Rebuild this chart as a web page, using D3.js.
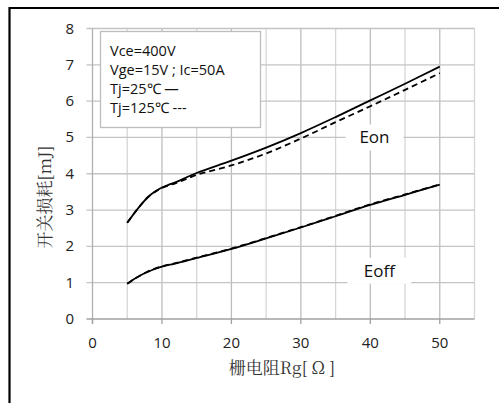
<!DOCTYPE html>
<html><head><meta charset="utf-8">
<script src="https://cdn.jsdelivr.net/npm/d3@7"></script>
<style>body{margin:0;background:#fff}svg{display:block}</style>
</head><body>
<script>
const rg = [5, 6, 7, 8, 9, 10, 11, 12, 15, 20, 25, 30, 35, 40, 45, 50];
const eon25 = [2.65, 2.91, 3.15, 3.36, 3.51, 3.62, 3.70, 3.77, 4.02, 4.36, 4.72, 5.12, 5.56, 6.02, 6.48, 6.95];
const eon125 = [2.65, 2.91, 3.15, 3.36, 3.50, 3.61, 3.68, 3.74, 3.97, 4.23, 4.56, 4.97, 5.42, 5.86, 6.31, 6.77];
const eoff25 = [0.97, 1.10, 1.21, 1.30, 1.38, 1.44, 1.49, 1.53, 1.68, 1.93, 2.22, 2.52, 2.83, 3.14, 3.42, 3.70];
const eoff125 = [0.97, 1.10, 1.21, 1.31, 1.39, 1.45, 1.50, 1.54, 1.69, 1.94, 2.23, 2.53, 2.84, 3.16, 3.43, 3.71];
const xTicks = [0, 10, 20, 30, 40, 50];
const yTicks = [0, 1, 2, 3, 4, 5, 6, 7, 8];
const legendLines = ["Vce=400V", "Vge=15V ; Ic=50A", "Tj=25\u2103 \u2014", "Tj=125\u2103 ---"];
const curveLabels = [{text: "Eon", x: 40.6, y: 5}, {text: "Eoff", x: 41.3, y: 1.33}];

const W = 499, H = 403;
const svg = d3.select("body").append("svg").attr("width", W).attr("height", H);
svg.append("rect").attr("width", W).attr("height", H).attr("fill", "#fff");

const x = d3.scaleLinear().domain([0, 55]).range([92.5, 474.5]);
const y = d3.scaleLinear().domain([0, 8]).range([319, 28.5]);
const font = "'Open Sans', sans-serif";
const cjk = "'Noto Serif CJK SC','Noto Sans CJK SC',serif";

// outer frame
svg.append("path").attr("d", `M9.5,${H+2}V8H${W+2}`).attr("fill", "none").attr("stroke", "#000").attr("stroke-width", 2.2);

// vertical gridlines every 5
const g = svg.append("g");
d3.range(5, 56, 5).forEach(v => {
  g.append("line").attr("x1", x(v)).attr("x2", x(v)).attr("y1", y(0)).attr("y2", y(8))
    .attr("stroke", v % 10 === 0 ? "#bdbdbd" : "#d6d6d6").attr("stroke-width", 1.3);
});
// horizontal gridlines
yTicks.filter(v => v > 0).forEach(v => {
  g.append("line").attr("x1", x(0) - 6).attr("x2", x(55)).attr("y1", y(v)).attr("y2", y(v))
    .attr("stroke", "#c4c4c4").attr("stroke-width", 1.3);
});
// axes lines
g.append("line").attr("x1", x(0)).attr("x2", x(0)).attr("y1", y(0) + 5).attr("y2", y(8)).attr("stroke", "#b0b0b0").attr("stroke-width", 1.3);
g.append("line").attr("x1", x(0) - 6).attr("x2", x(55)).attr("y1", y(0)).attr("y2", y(0)).attr("stroke", "#a0a0a0").attr("stroke-width", 1.3);
xTicks.forEach(v => {
  g.append("line").attr("x1", x(v)).attr("x2", x(v)).attr("y1", y(0)).attr("y2", y(0) + 5).attr("stroke", "#a0a0a0").attr("stroke-width", 1.3);
});

// tick labels
svg.append("g").selectAll("text").data(xTicks).join("text")
  .attr("x", d => x(d)).attr("y", 348).attr("text-anchor", "middle")
  .attr("font-family", font).attr("font-size", 15).attr("fill", "#222").text(d => d);
svg.append("g").selectAll("text").data(yTicks).join("text")
  .attr("x", 74).attr("y", d => y(d) + 5).attr("text-anchor", "end")
  .attr("font-family", font).attr("font-size", 15).attr("fill", "#222").text(d => d);

// axis titles
svg.append("text").attr("x", 282).attr("y", 374).attr("text-anchor", "middle")
  .attr("font-family", cjk).attr("font-size", 17).attr("fill", "#333")
  .text("栅电阻Rg[ Ω ]");
svg.append("text").attr("transform", "translate(51,197) rotate(-90)").attr("text-anchor", "middle")
  .attr("font-family", cjk).attr("font-size", 17).attr("fill", "#333")
  .text("开关损耗[mJ]");

// legend box
svg.append("rect").attr("x", 100.5).attr("y", 31.5).attr("width", 160).attr("height", 96)
  .attr("fill", "#fff").attr("stroke", "#bdbdbd").attr("stroke-width", 1.3);
svg.append("g").selectAll("text").data(legendLines).join("text")
  .attr("x", 110).attr("y", (d, i) => 55.5 + i * 19)
  .attr("font-family", font).attr("font-size", 14.5).attr("fill", "#111").text(d => d);

// curves
const line = d3.line().x((d, i) => x(rg[i])).y(d => y(d)).curve(d3.curveCatmullRom.alpha(0.5));
const curves = [
  {v: eon25, dash: null}, {v: eon125, dash: "6,4"},
  {v: eoff25, dash: null}, {v: eoff125, dash: "6,4"}
];
svg.append("g").selectAll("path").data(curves).join("path")
  .attr("d", d => line(d.v)).attr("fill", "none").attr("stroke", "#000")
  .attr("stroke-width", 1.8).attr("stroke-dasharray", d => d.dash);

// curve labels with white background
curveLabels.forEach(l => {
  const cx = x(l.x), cy = y(l.y);
  const w = l.text === "Eon" ? 58 : 64;
  svg.append("rect").attr("x", cx - w / 2).attr("y", cy - 13).attr("width", w).attr("height", 26).attr("fill", "#fff");
  svg.append("text").attr("x", cx).attr("y", cy + 6).attr("text-anchor", "middle")
    .attr("font-family", font).attr("font-size", 17).attr("fill", "#111").text(l.text);
});
</script>
</body></html>
